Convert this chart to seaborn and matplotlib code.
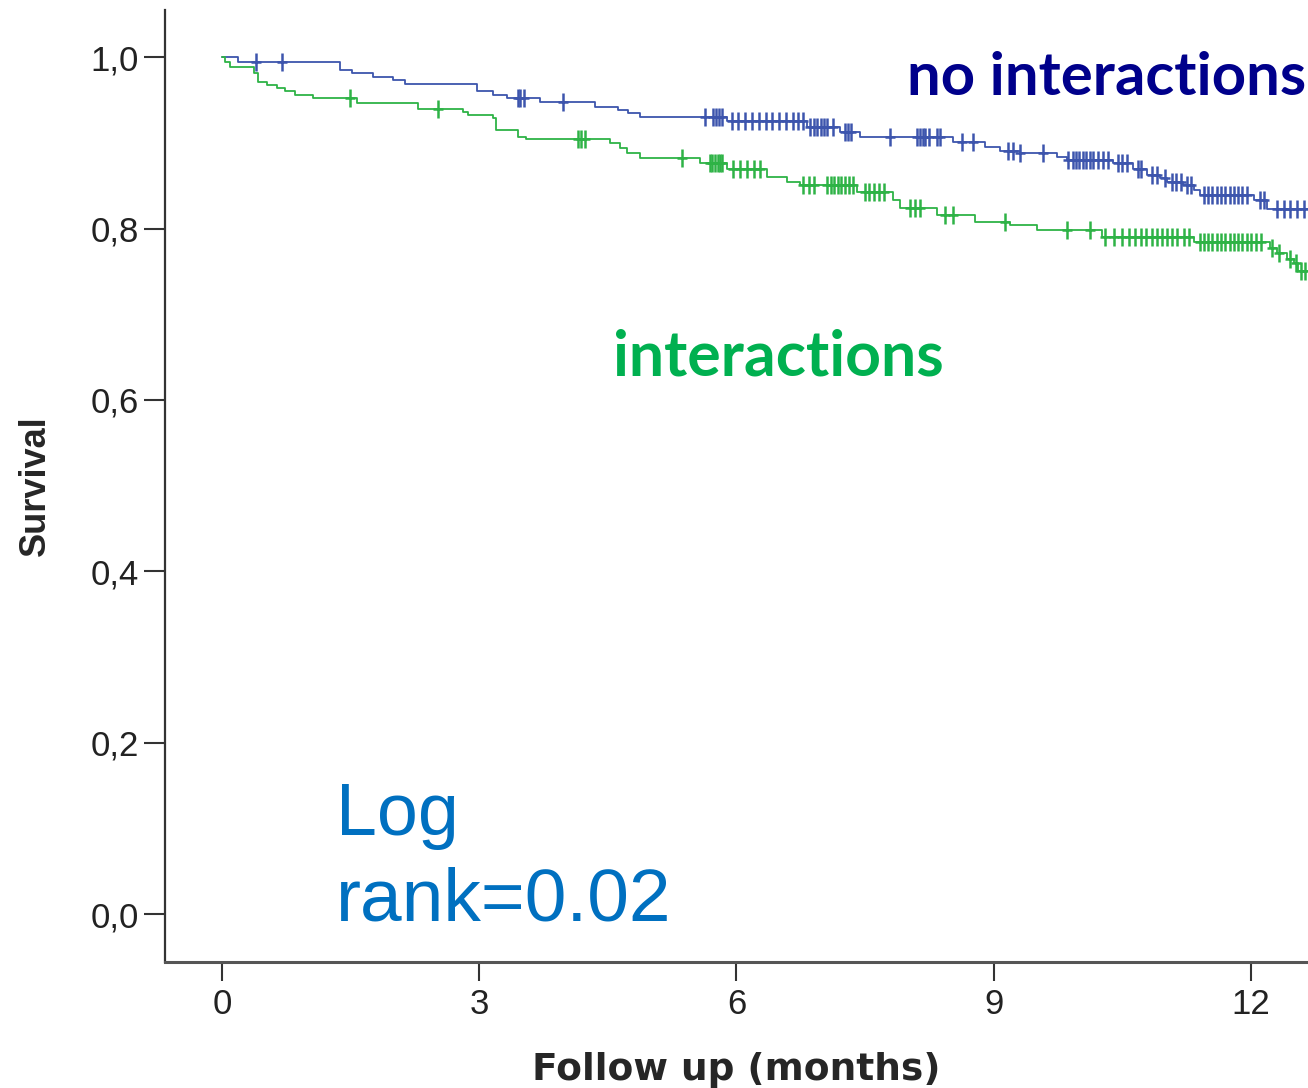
import numpy as np
import pandas as pd
import seaborn as sns
import matplotlib.pyplot as plt
from matplotlib.path import Path

# Kaplan-Meier steps (months, survival after the step)
no_int_times = [0, 0.19, 1.38, 1.52, 1.76, 2.00, 2.13, 2.97, 3.16, 3.32, 3.71, 4.35, 4.62,
                4.73, 4.87, 5.89, 6.82, 7.21, 7.44, 8.53, 8.90, 9.07, 9.31, 9.74, 9.85,
                10.39, 10.63, 10.79, 10.94, 11.02, 11.21, 11.33, 11.41, 12.03, 12.19, 12.68]
no_int_surv = [1.0, 0.994, 0.985, 0.981, 0.977, 0.973, 0.969, 0.960, 0.956, 0.952, 0.948, 0.942,
               0.938, 0.935, 0.930, 0.925, 0.919, 0.913, 0.907, 0.901, 0.895, 0.891, 0.888,
               0.884, 0.880, 0.876, 0.870, 0.862, 0.859, 0.854, 0.851, 0.845, 0.839, 0.833,
               0.823, 0.823]
no_int_censored = [0.40, 0.70, 3.45, 3.48, 3.52, 3.98, 5.63, 5.73, 5.76, 5.80, 5.83, 5.95, 6.02,
                   6.10, 6.18, 6.26, 6.34, 6.42, 6.50, 6.58, 6.66, 6.72, 6.78, 6.86, 6.90, 6.94,
                   6.98, 7.02, 7.06, 7.13, 7.26, 7.30, 7.34, 7.79, 8.10, 8.14, 8.17, 8.20, 8.24,
                   8.34, 8.37, 8.63, 8.76, 9.17, 9.22, 9.31, 9.57, 9.87, 9.92, 9.96, 10.00,
                   10.04, 10.08, 10.12, 10.16, 10.22, 10.28, 10.33, 10.45, 10.50, 10.55, 10.68,
                   10.72, 10.85, 10.90, 11.00, 11.08, 11.13, 11.18, 11.25, 11.30, 11.45, 11.50,
                   11.55, 11.60, 11.65, 11.70, 11.75, 11.80, 11.85, 11.90, 11.95, 12.10, 12.15,
                   12.30, 12.38, 12.46, 12.54, 12.62]

int_times = [0, 0.04, 0.09, 0.37, 0.42, 0.52, 0.64, 0.73, 0.85, 1.06, 1.57, 2.29, 2.81, 2.87,
             3.16, 3.20, 3.45, 3.55, 4.52, 4.64, 4.72, 4.87, 5.57, 5.89, 6.36, 6.59, 6.74,
             7.40, 7.83, 7.91, 8.34, 8.78, 9.19, 9.50, 10.26, 11.33, 12.22, 12.30, 12.42,
             12.50, 12.55, 12.68]
int_surv = [1.0, 0.994, 0.988, 0.982, 0.971, 0.967, 0.964, 0.960, 0.956, 0.952, 0.946, 0.940,
            0.936, 0.932, 0.929, 0.915, 0.907, 0.904, 0.900, 0.894, 0.888, 0.882, 0.877, 0.870,
            0.860, 0.854, 0.851, 0.843, 0.833, 0.824, 0.816, 0.808, 0.804, 0.798, 0.790, 0.784,
            0.777, 0.771, 0.765, 0.760, 0.751, 0.751]
int_censored = [1.49, 2.52, 4.15, 4.19, 4.23, 5.36, 5.69, 5.72, 5.75, 5.78, 5.81, 5.83, 5.96,
                6.04, 6.12, 6.20, 6.27, 6.78, 6.84, 6.90, 7.05, 7.10, 7.14, 7.18, 7.22, 7.27,
                7.31, 7.36, 7.50, 7.55, 7.60, 7.66, 7.72, 8.02, 8.08, 8.14, 8.43, 8.52, 9.13,
                9.85, 10.12, 10.30, 10.40, 10.50, 10.58, 10.65, 10.72, 10.78, 10.84, 10.90,
                10.96, 11.02, 11.08, 11.14, 11.22, 11.28, 11.40, 11.45, 11.50, 11.55, 11.60,
                11.65, 11.70, 11.75, 11.80, 11.85, 11.90, 11.95, 12.00, 12.06, 12.12, 12.25,
                12.33, 12.45, 12.52, 12.58, 12.63]

x_ticks = [0, 3, 6, 9, 12]
y_ticks = [0.0, 0.2, 0.4, 0.6, 0.8, 1.0]
y_tick_labels = ['0,0', '0,2', '0,4', '0,6', '0,8', '1,0']

BLUE = '#3d55ad'
GREEN = '#2eb346'

sns.set_style('ticks')

# censor mark: tall vertical bar with a short horizontal bar
censor_mark = Path([(0, -1), (0, 1), (-0.55, 0), (0.55, 0)],
                   [Path.MOVETO, Path.LINETO, Path.MOVETO, Path.LINETO])


def censor_y(times, surv, cens):
    idx = np.searchsorted(times, cens, side='right') - 1
    return np.asarray(surv)[idx]


fig = plt.figure(figsize=(13.08, 10.88), dpi=100)
ax = fig.add_axes([0.1261, 0.1158, 0.8739, 0.875])

for times, surv, cens, color in [(no_int_times, no_int_surv, no_int_censored, BLUE),
                                 (int_times, int_surv, int_censored, GREEN)]:
    df = pd.DataFrame({'t': times, 's': surv})
    sns.lineplot(data=df, x='t', y='s', ax=ax, color=color, lw=1.3,
                 drawstyle='steps-post', estimator=None, sort=False)
    ax.plot(cens, censor_y(times, surv, cens), ls='none', marker=censor_mark,
            markersize=13, mew=1.8, mfc='none', mec=color)

ax.set_xlim(-0.665, 12.665)
ax.set_ylim(-0.056, 1.055)
ax.set_xticks(x_ticks)
ax.set_xticklabels([str(v) for v in x_ticks])
ax.set_yticks(y_ticks)
ax.set_yticklabels(y_tick_labels)

ax.tick_params(axis='x', length=14, width=1.5, color='#333333', pad=5,
               labelsize=25, labelcolor='#222222')
ax.tick_params(axis='y', length=15, width=1.5, color='#333333', pad=4,
               labelsize=25, labelcolor='#222222')
for lab in ax.get_xticklabels() + ax.get_yticklabels():
    lab.set_family('Liberation Sans')

ax.spines['top'].set_visible(False)
ax.spines['right'].set_visible(False)
ax.spines['left'].set_linewidth(1.6)
ax.spines['left'].set_color('#333333')
ax.spines['bottom'].set_linewidth(2.2)
ax.spines['bottom'].set_color('#555555')

ax.set_xlabel('Follow up (months)', fontsize=27, fontweight='bold',
              family='DejaVu Sans', labelpad=22)
ax.set_ylabel('Survival', fontsize=26, fontweight='bold',
              family='Liberation Sans', labelpad=27)

ax.text(7.99, 0.956, 'no interactions', color='#00008b', fontsize=43,
        fontweight='bold', family='Lato', va='baseline')
ax.text(4.56, 0.628, 'interactions', color='#00b050', fontsize=45,
        fontweight='bold', family='Lato', va='baseline')
ax.text(1.33, 0.092, 'Log', color='#0070c0', fontsize=53,
        family='Liberation Sans', va='baseline')
ax.text(1.33, -0.007, 'rank=0.02', color='#0070c0', fontsize=54,
        family='Liberation Sans', va='baseline')

fig.savefig('out.png', dpi=100, facecolor='white')
